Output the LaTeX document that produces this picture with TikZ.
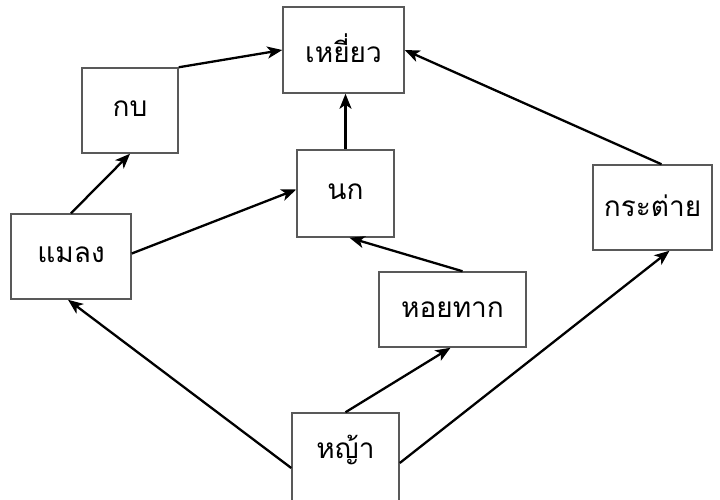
\documentclass[tikz,border=0pt]{standalone}
\usepackage{fontspec}
\newfontfamily\thaifont[Script=Thai]{Loma}
\usetikzlibrary{arrows.meta,calc}
\begin{document}
\begin{tikzpicture}[x=1pt,y=-1pt,
  thaitext/.style={font=\thaifont\fontsize{28}{30}\selectfont},
  box/.style={draw=black!65, line width=1.5pt, fill=white, inner sep=0pt, thaitext},
  link/.style={line width=2.3pt, -{Stealth[length=15pt,width=12pt,inset=4pt]}}]
\useasboundingbox (0,0) rectangle (720,499);
\fill[white] (0,0) rectangle (720,499);
\begin{scope}
\clip (0,0) rectangle (720,499);
\node[box, minimum width=121pt, minimum height=86pt] (hawk) at (343.5,50) {\raisebox{4pt}{เหยี่ยว}};
\node[box, minimum width=96pt, minimum height=85pt] (frog) at (130,110.5) {\raisebox{4pt}{กบ}};
\node[box, minimum width=97pt, minimum height=87pt] (bird) at (345.5,193.5) {\raisebox{4pt}{นก}};
\node[box, minimum width=120pt, minimum height=85pt] (insect) at (71,256.5) {\raisebox{4pt}{แมลง}};
\node[box, minimum width=147pt, minimum height=75pt] (snail) at (452.5,309.5) {หอยทาก};
\node[box, minimum width=119pt, minimum height=85pt] (rabbit) at (652.5,207.5) {\raisebox{3pt}{กระต่าย}};
\node[box, minimum width=107pt, minimum height=100pt] (grass) at (345.5,463) {};
\node[thaitext, inner sep=0pt] (grasstext) at (345.5,450) {หญ้า};
\end{scope}
\draw[link] (frog.north east) -- (hawk.west);
\draw[link] (insect.north) -- (frog.south);
\draw[link] ([yshift=3pt]insect.east) -- ([yshift=4pt]bird.west);
\draw[link] (bird.north) -- (bird.north |- hawk.south);
\draw[link] ([xshift=10pt]snail.north) -- ([xshift=4pt]bird.south);
\draw[link] ([xshift=9pt]rabbit.north) -- (hawk.east);
\draw[link] ([yshift=-5pt]grass.west) -- ([xshift=-3pt]insect.south);
\draw[link] (grass.north) -- ([xshift=-2pt]snail.south);
\draw[link] (grass.east) -- ([xshift=17pt]rabbit.south);
\end{tikzpicture}
\end{document}
